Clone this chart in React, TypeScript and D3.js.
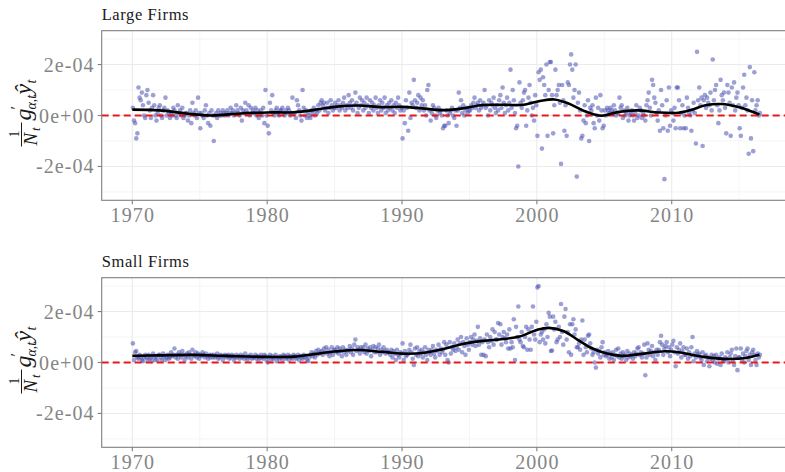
import React from "react";
import * as d3 from "d3";

// monthly values, units of 1e-5, one row per year starting 1970
const years = d3.range(1970, 2017);
const UNIT = 1e-5;

const largeFirms: number[][] = [
  [3, -2, -3, -9, -7, 11, 7, 6, 9, 4, 0, -1],
  [8, 10, 5, 2, -1, 3, 8, 4, 0, -2, 1, 3],
  [4, 0, -1, 2, 3, 7, 0, 2, 1, -1, 1, 0],
  [3, 2, 0, -1, 4, 1, 2, 0, 3, -1, 0, 1],
  [1, -2, 0, 2, -3, 5, 1, 0, 2, -1, 7, 1],
  [-5, 1, 0, -1, 2, 4, 0, -3, 1, -4, 2, 0],
  [-10, 0, 1, -1, 2, 0, 1, 0, 2, 1, 0, 1],
  [2, 0, 1, 3, 1, 2, 0, 1, 4, 2, 1, 0],
  [3, -2, 2, 1, 5, 2, 1, 4, 0, 3, 1, 2],
  [1, 3, 0, 2, -1, 1, 2, 0, 3, -3, 10, 0],
  [-4, -7, 5, 2, 8, 1, 0, 2, 3, 1, 0, 2],
  [2, 3, 1, 0, 2, 1, 3, 2, 0, 1, 7, 1],
  [1, -1, 6, 4, 2, 0, -2, 10, 3, 0, 2, -1],
  [1, 0, -1, 2, 1, 3, 0, 2, 1, 4, 2, 5],
  [6, 4, 5, 2, 3, 5, 1, 3, 6, 4, 2, 3],
  [5, 3, 4, 6, 2, 4, 3, 5, 7, 2, 4, 3],
  [8, 5, 3, 6, 2, 4, 9, 5, 1, 3, 7, 4],
  [6, 2, 5, 3, 7, 4, 1, 6, 3, 5, 2, 4],
  [7, 3, 1, 4, 6, 2, 5, 3, 7, 1, 4, 2],
  [5, 3, 6, 2, 4, 1, 5, 3, 7, 4, 2, 3],
  [-9, 2, -3, 6, 3, -6, 9, -1, 5, 4, 14, 6],
  [3, 5, 8, 2, 7, 4, 6, 2, 4, 0, 10, 12],
  [2, -2, 1, 4, 3, 0, -1, 2, 3, 1, 2, 0],
  [-5, -4, -4, 2, 0, -3, 1, 2, 3, 0, -1, 2],
  [-4, 2, 9, 3, 6, 1, 4, 0, 2, 3, 1, 2],
  [2, 4, 3, 5, 7, 3, 4, 5, 2, 6, 3, 4],
  [5, 10, 3, 4, 0, 6, 2, 5, 4, 7, 3, 1],
  [4, 2, 6, 8, 3, 11, 5, 1, 4, 7, 2, 5],
  [18, 3, 10, 6, 1, -5, -4, -20, 13, 5, 3, 6],
  [9, 10, -4, 2, 7, 12, 5, 0, 3, -2, 8, 4],
  [-8, 17, 14, 18, -13, 15, 12, 8, 20, -8, 10, 21],
  [21, 8, -7, 4, 18, 8, 10, 12, 5, -19, 12, 6],
  [-6, 4, -8, 13, 12, 20, 24, 18, 7, 10, 20, -24],
  [5, 9, 2, -9, -8, -2, 4, -3, 0, 6, -10, 3],
  [2, 4, -3, -5, 7, 0, 3, -2, 8, 2, -5, -4],
  [2, 0, 3, 2, 1, 3, 2, 1, 4, 2, 0, 1],
  [1, 7, 3, 4, -1, 2, 0, 1, 3, -2, 0, 1],
  [2, 0, -2, 1, 4, -1, 0, 3, 2, -1, 1, 0],
  [-2, 4, 6, 9, 3, 0, 14, 12, 7, 5, 1, -2],
  [2, -6, 10, 4, -5, -25, 0, 6, -6, 11, -4, 2],
  [1, -2, 3, -5, 11, 11, 6, -5, 1, 4, -5, 0],
  [-5, 7, 3, 1, 0, -6, 2, 5, 1, -11, 25, 6],
  [11, 4, 7, -12, 6, 8, 3, 7, 5, 4, 9, 2],
  [22, 6, 10, 12, 4, -3, 2, 14, 8, 6, 9, 3],
  [-7, 12, 9, 5, -8, 11, 4, 13, 2, 7, 9, 4],
  [-5, -8, 3, 11, 16, 4, 7, 2, -15, 19, -9, 6],
  [-14, 17, 2, 4, 6, 0, 1],
];

const smallFirms: number[][] = [
  [7.5, 1, 4, 4.5, 2, 1.5, 3, 2, 1, 0.5, 2, 3],
  [2, 1, 3, 1.5, 2, 0.5, 3.5, 2, 1, 2.5, 1, 3],
  [3, 2, 1, 3.5, 2.5, 1, 2, 3, 1.5, 2, 4, 2.5],
  [3, 5.5, 2, 3, 1.5, 4, 3, 2, 4.5, 3, 1, 2.5],
  [3.5, 2, 4, 3, 1.5, 5, 3, 2.5, 4, 2, 3.5, 1.5],
  [3, 2.5, 4, 3, 2, 3.5, 2.5, 1.5, 3, 2, 3, 2],
  [3, 2, 2.5, 3.5, 1.5, 2, 3, 2.5, 1, 2.5, 3, 2],
  [2.5, 3, 1.5, 2, 3, 2.5, 1, 2, 3, 2, 2.5, 1.5],
  [3, 2, 2.5, 1.5, 3.5, 2, 1, 2.5, 2, 3, 1.5, 2],
  [2, 3, 1.5, 2.5, 1, 2, 3, 2, 1.5, 3, 2.5, 1],
  [0, 2, 3, 1, 2.5, 1.5, 2, 3, 0.5, 2, 1.5, 2.5],
  [2, 1, 3, 2.5, 1.5, 2, 3, 1, 2.5, 2, 1.5, 3],
  [2.5, 1.5, 2, 3, 1, 2.5, 2, 1.5, 3, 2, 2.5, 1],
  [0.5, 2, 3, 4, 2.5, 3.5, 2, 4.5, 3, 5, 3.5, 4],
  [4.5, 3, 5.5, 4, 6, 3.5, 5, 2.5, 4, 6, 3, 5],
  [5, 4, 6, 3.5, 5.5, 4.5, 2.5, 6, 4, 5, 3, 4.5],
  [5, 6.5, 4, 5.5, 3, 7, 9, 4.5, 6, 5, 3.5, 6],
  [5, 6, 4, 7, 3.5, 5.5, 4.5, 6, 2.5, 5, 6.5, 4],
  [6, 4, 5.5, 7, 3, 5, 4, 6, 4.5, 3.5, 5, 4],
  [4, 3, 5, 2, 4.5, 3.5, 1, 5, 3, 2, 4, 3.5],
  [7.5, 1, 4.5, 2.5, 3, 3.5, 5, 7, 4, 1.5, -1, 5.5],
  [3, 6, 2.5, 4.5, 3.5, 5, 2, 4, 6, 3, 1, 5],
  [4, 3, 5, 6.5, 3.5, 2, 5, 4.5, 7, 3, 5.5, 4],
  [5, 8, 3, 7, 1, 0, 8, 3.5, 6, 5, 7.5, 4.5],
  [6, 9, 5, 7.5, 10, 4, 8, 6.5, 3, 9.5, 7, 5],
  [8, 10, 7, 9, 11, 6.5, 8.5, 14, 7, 9.5, 3, 8],
  [3, 9, 2.5, 11, 8, 6, 10, 8.5, 13, 7, 12, 9],
  [9, 15.5, 11, 15, 7, 10, 12, 9.5, 8, 11, 5.5, 13],
  [5.5, 8, 6, 17, 1, 14, 10, 22, 9, 8, 12, 6.5],
  [6, 10, 14, 5, 13, 9, 5, 14, 22, 11, 9, 16],
  [29.5, 30, 8, 11, 12, 9, 13, 7.5, 15, 10, 19.5, 18],
  [4.5, 4.7, 18, 13, 16, 8, 9, 14, 10, 23, 12, 7],
  [18, 21, 9, 12, 4, 15, 3, 15, 17, 11, 13, 6],
  [6, 7.5, 5, 9, 16.5, 3, 9, 6, 4, 10.5, 11, 7.5],
  [5.5, 3, 4, 0, -2, 5, 3.5, 4.5, 2, 6, 8, 3],
  [4, 2.5, 3, 4.5, 1.5, 3.5, 2, 4, 1, 3, 5, 2.5],
  [5.5, 2, 3.5, 1.5, 4, 2.5, 3, 1, 4.5, 2, 3.5, 2.5],
  [3, 1.5, 4, 2.5, 3.5, 5.5, 6, 3, 4, 2, 3.5, 7],
  [-5, 2, 7.5, 5, 3, 4.5, 6.5, 2.5, 4, 1, 5, 3],
  [5, 8, 10.5, 7, 3, 5.5, 6.5, 8, 4, 6, 2.5, 5],
  [7, 8.5, 4, -1.5, 6, 3.5, 5, 7.5, 2, 4.5, 6, 3],
  [3, 5.5, 1.5, 4, 2.5, 6, 10, 0.5, 3.5, 2, 4.5, 3],
  [3.5, 2, 1, 4, -1, 2.5, 3, 0.5, 2, -1.5, 1.5, 3],
  [1, 2.5, 0, 3, -0.5, 1.5, 2, -1, 3.5, 1, 0.5, 2],
  [1.5, 4, 0, 2, 3.5, 5, 1, -1, 2.5, 5.5, -3, 2],
  [2, 5.5, 1, 3.5, 0, 2.5, 4.5, 5.5, 1, 3, -1, 4],
  [5, 3, 1, -1, 3.5, 2, 3],
];

// smoothed trend: [year, value in 1e-5]
const largeSmooth: [number, number][] = [
  [1970, 2.3], [1972, 2.0], [1974, 0.8], [1975.8, 0], [1978, 0.8], [1980, 1.2],
  [1982, 1.3], [1983.5, 2.2], [1985, 3.4], [1986.8, 3.9], [1988.5, 3.3], [1990, 3.4],
  [1991.5, 2.8], [1993, 2.1], [1994.5, 2.8], [1996, 4.1], [1997.5, 4.2], [1999, 4.2],
  [2000.3, 5.8], [2001.3, 6.3], [2002.3, 4.8], [2003.5, 1.8], [2004.8, -0.1], [2006, 1.4],
  [2007.5, 2.0], [2009, 1.2], [2010.5, 1.1], [2011.5, 2.3], [2012.5, 4.0], [2013.7, 4.5],
  [2015, 3.2], [2016.5, 0.4],
];

const smallSmooth: [number, number][] = [
  [1970, 2.6], [1972, 2.8], [1974.5, 3.0], [1977, 2.6], [1980, 2.2], [1982, 2.3],
  [1983.5, 3.3], [1985, 4.3], [1986.7, 4.9], [1988.5, 4.2], [1990, 3.5], [1991.5, 3.7],
  [1993, 5.2], [1994.5, 7.3], [1996, 8.5], [1997.5, 9.2], [1998.7, 10.2], [2000, 12.8],
  [2000.9, 13.6], [2002, 12.3], [2003, 9.0], [2004, 5.8], [2005.2, 3.5], [2006.3, 2.6],
  [2007.5, 3.2], [2009.5, 4.4], [2010.5, 4.0], [2011.5, 3.0], [2012.5, 2.1], [2014, 1.4],
  [2015.5, 1.8], [2016.5, 3.0],
];

const xTicks = [1970, 1980, 1990, 2000, 2010];
const xMinor = [1975, 1985, 1995, 2005, 2015];
const yTicks = [-2e-4, 0, 2e-4];
const yTickLabels = ["-2e-04", "0e+00", "2e-04"];
const yMinor = [-3e-4, -1e-4, 1e-4, 3e-4];

const W = 785;
const H = 472;
const FONT = "'Liberation Serif', 'DejaVu Serif', serif";

// 1/N_t g'_{a,t} y-hat_t, written sideways
function YLabel({ cx, cy }: { cx: number; cy: number }) {
  return (
    <g transform={`translate(${cx},${cy}) rotate(-90)`} fill="#1a1a1a" fontFamily={FONT}>
      <text x={-18.5} y={-12.5} fontSize={14} textAnchor="middle">1</text>
      <line x1={-31} x2={-7} y1={-9.5} y2={-9.5} stroke="#1a1a1a" strokeWidth={1} />
      <text x={-30} y={6} fontSize={19} fontStyle="italic">N</text>
      <text x={-15.5} y={9} fontSize={13} fontStyle="italic">t</text>
      <text x={-5} y={0} fontSize={24} fontStyle="italic">g</text>
      <text x={6} y={-9} fontSize={16}>′</text>
      <text x={6} y={5} fontSize={14} fontStyle="italic">α,t</text>
      <text x={21} y={0} fontSize={24} fontStyle="italic">ŷ</text>
      <text x={32} y={5} fontSize={14} fontStyle="italic">t</text>
    </g>
  );
}

function Panel({ title, rows, smooth, top }: { title: string; rows: number[][]; smooth: [number, number][]; top: number }) {
  const left = 101.7;
  const right = 785;
  const bottom = top + 169.6;
  const x = d3.scaleLinear().domain([1967.73, 2018.4]).range([left, right]);
  const y = d3.scaleLinear().domain([-3.33e-4, 3.33e-4]).range([bottom, top]);

  const pts = rows.flatMap((row, i) => row.map((v, m) => ({ t: years[i] + (m + 0.5) / 12, v: v * UNIT })));
  const line = d3
    .line<[number, number]>()
    .x((d) => x(d[0]))
    .y((d) => y(d[1] * UNIT))
    .curve(d3.curveCatmullRom.alpha(0.5));

  return (
    <g>
      <text x={left} y={top - 10.5} fontFamily={FONT} fontSize={16.5} letterSpacing={0.6} fill="#1a1a1a">
        {title}
      </text>
      <rect x={left} y={top} width={right - left} height={bottom - top} fill="white" />
      {yMinor.map((v) => (
        <line key={"ym" + v} x1={left} x2={right} y1={y(v)} y2={y(v)} stroke="#f3f3f3" strokeWidth={0.8} />
      ))}
      {xMinor.map((v) => (
        <line key={"xm" + v} x1={x(v)} x2={x(v)} y1={top} y2={bottom} stroke="#f3f3f3" strokeWidth={0.8} />
      ))}
      {yTicks.map((v) => (
        <line key={"yg" + v} x1={left} x2={right} y1={y(v)} y2={y(v)} stroke="#ebebeb" strokeWidth={1.1} />
      ))}
      {xTicks.map((v) => (
        <line key={"xg" + v} x1={x(v)} x2={x(v)} y1={top} y2={bottom} stroke="#ebebeb" strokeWidth={1.1} />
      ))}
      {pts.map((p, i) => (
        <circle key={i} cx={x(p.t)} cy={y(p.v)} r={2.3} fill="#4b52b0" fillOpacity={0.55} />
      ))}
      <line x1={left} x2={right} y1={y(0)} y2={y(0)} stroke="#e8191c" strokeWidth={2} strokeDasharray="7 4" />
      <path d={line(smooth) ?? ""} fill="none" stroke="#000" strokeWidth={2.6} />
      <rect x={left} y={top} width={right - left + 2} height={bottom - top} fill="none" stroke="#7f7f7f" strokeWidth={1.1} />
      {yTicks.map((v, i) => (
        <g key={"yt" + v}>
          <line x1={left - 4} x2={left} y1={y(v)} y2={y(v)} stroke="#7f7f7f" strokeWidth={1.1} />
          <text x={left - 7} y={y(v)} dy="0.35em" textAnchor="end" fontFamily={FONT} fontSize={20} letterSpacing={1.1} fill="#858585">
            {yTickLabels[i]}
          </text>
        </g>
      ))}
      {xTicks.map((v) => (
        <g key={"xt" + v}>
          <line x1={x(v)} x2={x(v)} y1={bottom} y2={bottom + 4} stroke="#7f7f7f" strokeWidth={1.1} />
          <text x={x(v) + 0.5} y={bottom + 21.5} textAnchor="middle" fontFamily={FONT} fontSize={20} letterSpacing={1.1} fill="#858585">
            {v}
          </text>
        </g>
      ))}
      <YLabel cx={31} cy={(top + bottom) / 2} />
    </g>
  );
}

export default function App() {
  return (
    <svg width={W} height={H} style={{ position: "absolute", left: 0, top: 0, background: "white" }}>
      <rect width={W} height={H} fill="white" />
      <Panel title="Large Firms" rows={largeFirms} smooth={largeSmooth} top={30.7} />
      <Panel title="Small Firms" rows={smallFirms} smooth={smallSmooth} top={277.7} />
    </svg>
  );
}
